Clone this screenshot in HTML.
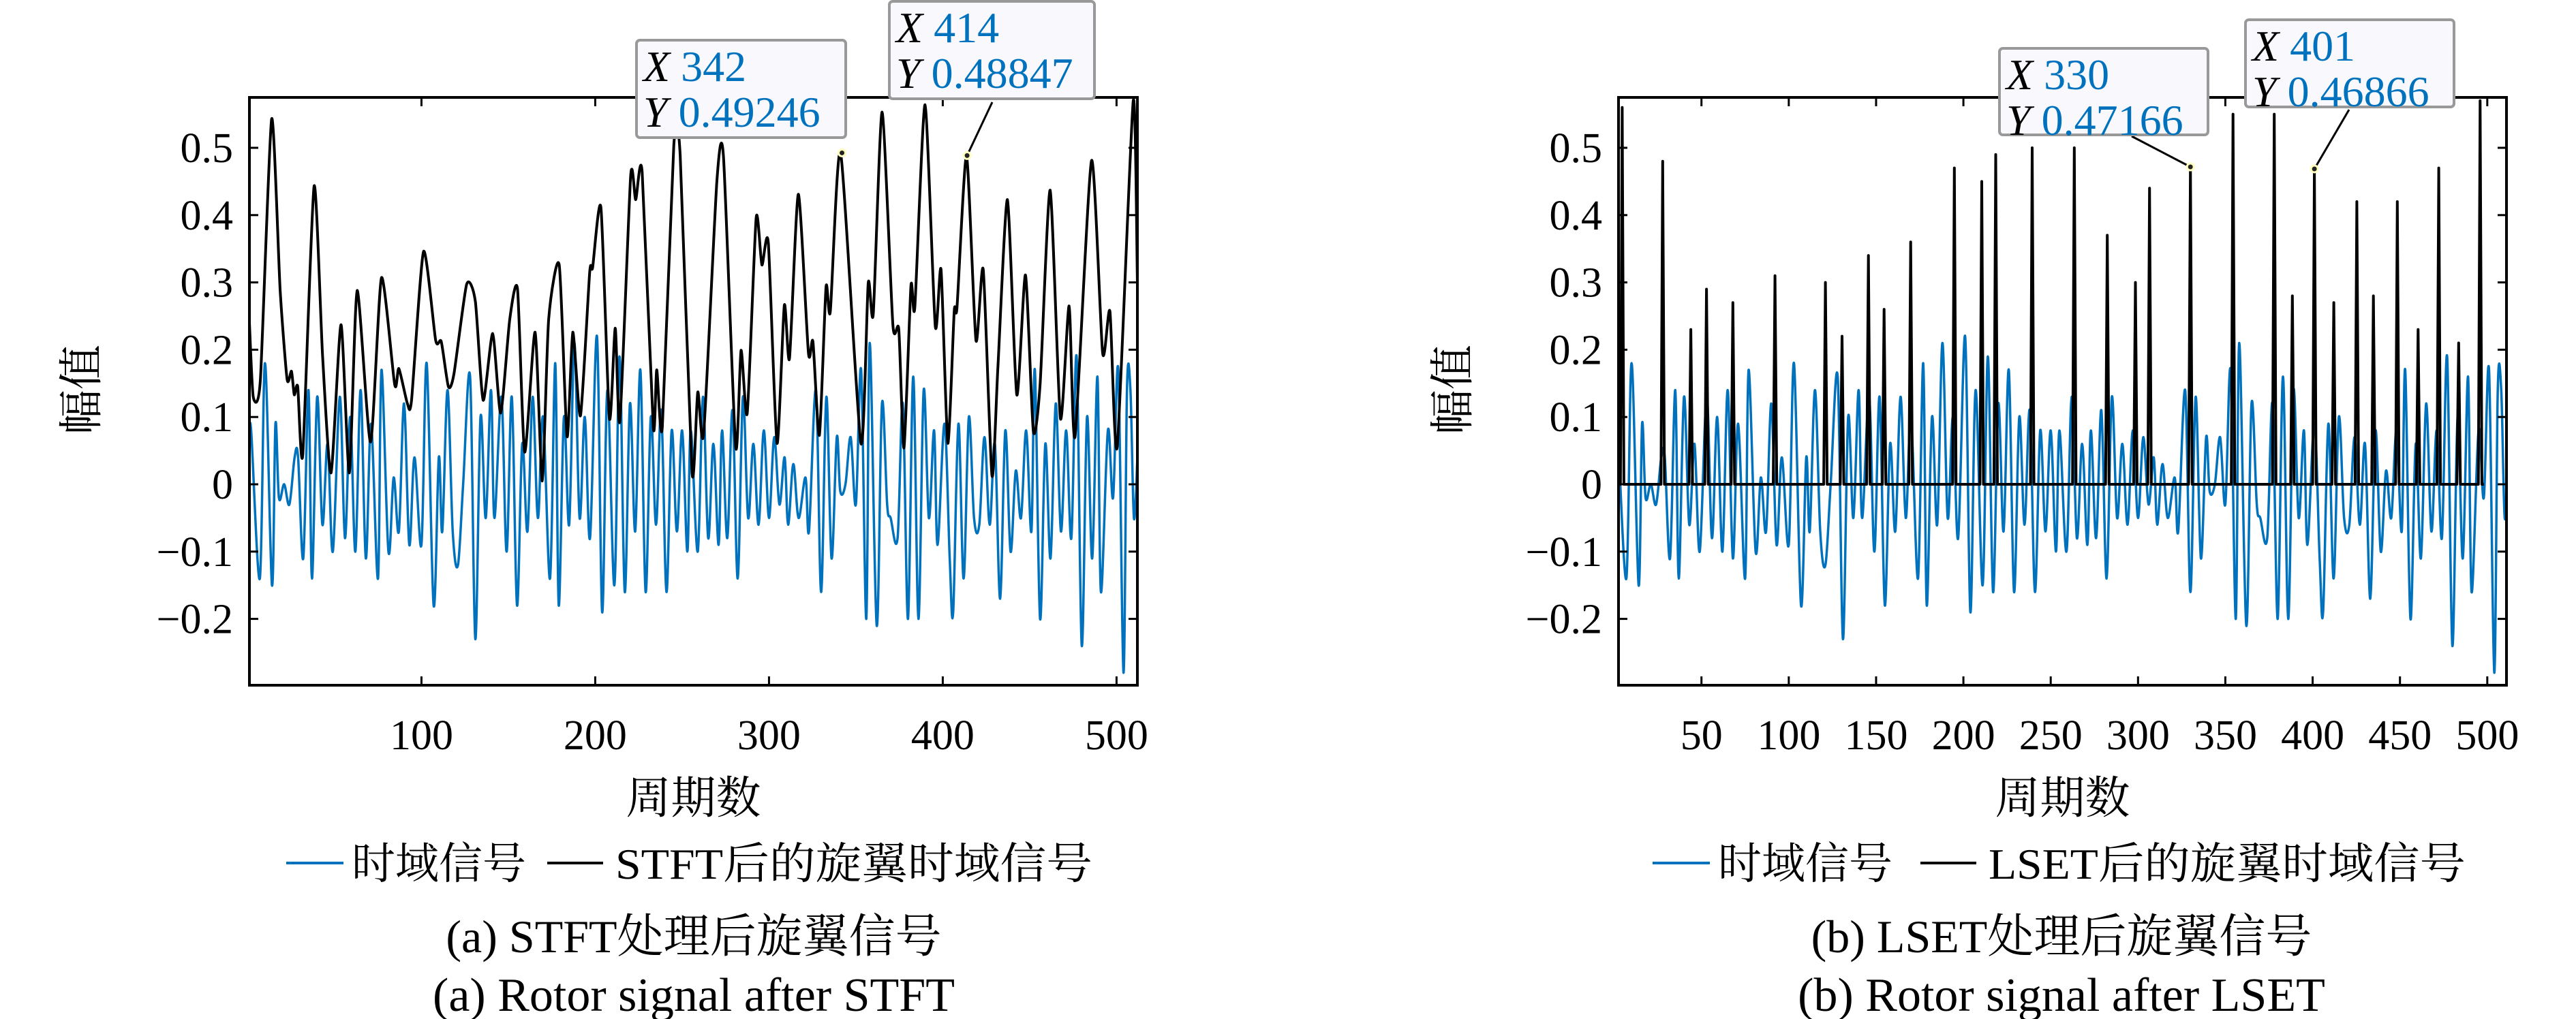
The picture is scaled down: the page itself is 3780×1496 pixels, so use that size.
<!DOCTYPE html>
<html><head><meta charset="utf-8">
<style>
html,body{margin:0;padding:0;background:#fff;}
svg{display:block;}
text{font-family:"Liberation Serif","Noto Serif CJK SC",serif;}
</style></head>
<body>
<svg id="fig" width="3780" height="1496" viewBox="0 0 3780 1496" xmlns="http://www.w3.org/2000/svg"></svg>
<script>
// ---------- data ----------
const blueX = [1,2,7,10,14,16,18,21,24,27,29,32,35,37,40,43,46,49,53,56,59,62,65,68,71,75,77,81,84,87,90,93,96,100,103,107,110,112,115,118,121,124,128,131,134,137,140,142,146,149,152,155,158,161,164,167,170,174,177,179,182,185,188,191,194,197,201,204,207,211,214,217,220,223,226,229,232,235,238,241,244,247,250,253,255,259,262,265,268,271,273,276,279,282,285,288,291,294,297,300,303,306,309,311,314,317,321,323,327,330,333,336,339,341,344,347,350,353,356,358,362,365,368,370,374,377,380,383,386,389,392,395,397,401,404,406,409,412,415,418,421,424,427,430,433,436,439,442,445,448,451,453,456,459,462,465,468,471,474,477,480,483,486,489,491,495,498,501,504,506,508,510,512];
const blueY = [0.06,0.08,-0.14,0.18,-0.15,0.09,-0.02,0,-0.03,0.04,0.04,-0.11,0.14,-0.14,0.13,-0.06,0.06,-0.1,0.13,-0.08,0.1,-0.1,0.14,-0.11,0.09,-0.14,0.17,-0.1,0.01,-0.07,0.12,-0.09,0.04,-0.09,0.18,-0.18,0.04,-0.07,0.14,-0.07,-0.12,0.0,0.16,-0.23,0.1,-0.05,0.14,-0.05,0.13,-0.1,0.13,-0.18,0.06,-0.07,0.13,-0.05,0.1,-0.14,0.18,-0.18,0.1,-0.06,0.21,-0.05,0.1,-0.08,0.22,-0.19,0.14,-0.15,0.19,-0.16,0.12,-0.07,0.17,-0.16,0.1,-0.06,0.11,-0.16,0.08,-0.07,0.08,-0.1,0.08,-0.1,0.13,-0.08,0.06,-0.09,0.08,-0.08,0.11,-0.14,0.13,-0.05,0.06,-0.06,0.08,-0.05,0.07,-0.03,0.04,-0.06,0.03,-0.05,0.01,-0.07,0.14,-0.16,0.13,-0.11,0.07,-0.01,0.0,0.07,-0.03,0.17,-0.2,0.21,-0.21,0.12,-0.03,-0.05,-0.08,0.12,-0.2,0.16,-0.2,0.14,-0.05,0.08,-0.09,0.09,-0.11,-0.19,0.09,-0.14,0.1,-0.05,-0.06,0.07,-0.06,0.06,-0.17,0.08,-0.1,0.02,-0.05,0.08,-0.07,0.17,-0.2,0.06,-0.11,0.12,-0.07,0.08,-0.08,0.19,-0.24,0.1,-0.11,0.16,-0.16,0.08,-0.02,0.17,-0.28,0.14,0.14,-0.05,0.04];
const stftX = [1,3.2,7.3,13.8,18.7,22.7,25.2,26.8,28.8,31.7,38.2,43.1,48,53.7,58.5,63,70.7,77,84.6,87,91.9,94.3,101.2,108.2,111.4,115.5,118.7,126,131,135.5,141,145.6,150.8,155.3,159.4,165.4,169.5,173.2,179.3,183.8,187.1,191.5,196.8,198.5,203.3,208.2,211.5,214.2,220.4,223.3,227,233.4,235.4,238.6,245.2,248.9,255.7,259,262.4,270,273.8,280.8,283.9,287.5,292.6,295.9,299.6,304.6,308.8,311.8,316.9,322.7,325.3,329,332.8,335.3,341.2,352.9,357.1,360,365.1,371.3,374.7,377.7,381.7,383.9,389.8,395.7,399,402.9,406.6,408.2,413.7,419.1,423.3,428.3,431.7,437.2,442.6,447.6,452.1,456,461.8,467.7,472.7,476.1,485.6,492,496.2,500.4,509.6,512];
const stftY = [0.24,0.13,0.156,0.543,0.288,0.156,0.168,0.133,0.145,0.044,0.443,0.19,0.017,0.237,0.017,0.288,0.063,0.307,0.148,0.172,0.12,0.125,0.346,0.214,0.212,0.145,0.164,0.297,0.272,0.125,0.224,0.106,0.245,0.29,0.048,0.226,0.005,0.245,0.326,0.071,0.226,0.102,0.315,0.322,0.411,0.098,0.232,0.094,0.458,0.423,0.464,0.085,0.17,0.085,0.503,0.489,0.017,0.137,0.075,0.45,0.487,0.056,0.199,0.106,0.396,0.326,0.359,0.061,0.266,0.187,0.431,0.195,0.212,0.073,0.293,0.257,0.49246,0.061,0.299,0.253,0.553,0.237,0.23,0.054,0.295,0.263,0.564,0.235,0.319,0.061,0.257,0.263,0.48847,0.214,0.319,0.013,0.172,0.423,0.133,0.311,0.079,0.148,0.437,0.098,0.265,0.071,0.481,0.195,0.257,0.056,0.57,0.3];
const lsetX = [4.6,27.8,43.9,52.9,68,92.1,121,130.5,145.6,154.6,169.8,194.8,210.5,218.5,239.4,263.5,282.4,298.5,306.6,330,354.4,378,388.4,401,412.1,425.3,434.8,448.5,460.4,472.2,483.6,495.9];
const lsetY = [0.56,0.48,0.23,0.29,0.27,0.31,0.30,0.22,0.34,0.26,0.36,0.47,0.45,0.49,0.50,0.50,0.37,0.30,0.44,0.47166,0.55,0.55,0.28,0.46866,0.27,0.42,0.28,0.42,0.23,0.47,0.21,0.57];
const yTicks = [0.5,0.4,0.3,0.2,0.1,0,-0.1,-0.2];
const yTickLabels = ["0.5","0.4","0.3","0.2","0.1","0","-0.1","-0.2"];
const xTicksA = [100,200,300,400,500];
const xTicksB = [50,100,150,200,250,300,350,400,450,500];
const tipsA = [[342,0.49246],[414,0.48847]];
const tipsB = [[330,0.47166],[401,0.46866]];

const NS="http://www.w3.org/2000/svg";
const svg=document.getElementById('fig');
function mk(tag,attrs,parent){const e=document.createElementNS(NS,tag);for(const k in attrs)e.setAttribute(k,attrs[k]);(parent||svg).appendChild(e);return e;}
const BLUE="#0072BD";

function smoothPath(pts,k){
  k=k||6;
  let d="M"+pts[0][0].toFixed(1)+","+pts[0][1].toFixed(1);
  for(let i=0;i<pts.length-1;i++){
    const p0=pts[Math.max(0,i-1)],p1=pts[i],p2=pts[i+1],p3=pts[Math.min(pts.length-1,i+2)];
    const c1x=p1[0]+(p2[0]-p0[0])/k,c1y=p1[1]+(p2[1]-p0[1])/k;
    const c2x=p2[0]-(p3[0]-p1[0])/k,c2y=p2[1]-(p3[1]-p1[1])/k;
    d+=" C"+c1x.toFixed(1)+","+c1y.toFixed(1)+" "+c2x.toFixed(1)+","+c2y.toFixed(1)+" "+p2[0].toFixed(1)+","+p2[1].toFixed(1);
  }
  return d;
}

function panel(o){
  const g=mk('g',{});
  
  
  const X0=o.left,X1=o.right,Y0=143,Y1=1006;
  const xs=v=>X0+(v-o.xmin)/(o.xmax-o.xmin)*(X1-X0);
  const ys=v=>711-v*988;
  const cp='clip-'+o.name;
  const defs=mk('defs',{},g);
  const c=mk('clipPath',{id:cp},defs);
  mk('rect',{x:X0,y:Y0,width:X1-X0,height:Y1-Y0},c);
  const bp=mk('path',{d:smoothPath(blueX.map((x,i)=>[xs(x),ys(blueY[i])])),fill:'none',stroke:BLUE,'stroke-width':3.5,'clip-path':'url(#'+cp+')'},g);
  
  
  let kd;
  if(o.type==='stft'){
    kd=smoothPath(stftX.map((x,i)=>[xs(x),ys(stftY[i])]),9);
  } else {
    kd="M"+xs(o.xmin)+","+ys(0);
    lsetX.forEach((x,i)=>{kd+=" L"+xs(x-1).toFixed(1)+","+ys(0)+" L"+xs(x).toFixed(1)+","+ys(lsetY[i]).toFixed(1)+" L"+xs(x+1).toFixed(1)+","+ys(0);});
    kd+=" L"+xs(498)+","+ys(0);
  }
  const kp=mk('path',{d:kd,fill:'none',stroke:'#000','stroke-width':4,'stroke-linejoin':'round','clip-path':'url(#'+cp+')'},g);
  
  
  const bx=mk('rect',{x:X0,y:Y0,width:X1-X0,height:Y1-Y0,fill:'none',stroke:'#000','stroke-width':4},g);
  
  
  yTicks.forEach((v,i)=>{
    const y=ys(v);
    mk('line',{x1:X0,y1:y,x2:X0+13,y2:y,stroke:'#000','stroke-width':3},g);
    mk('line',{x1:X1,y1:y,x2:X1-13,y2:y,stroke:'#000','stroke-width':3},g);
    const t=mk('text',{x:X0-24,y:y+21,'text-anchor':'end','font-size':62},g);
    t.textContent=yTickLabels[i].replace('-','\u2212');
    
    
  });
  o.xticks.forEach(v=>{
    const x=xs(v);
    mk('line',{x1:x,y1:Y1,x2:x,y2:Y1-13,stroke:'#000','stroke-width':3},g);
    mk('line',{x1:x,y1:Y0,x2:x,y2:Y0+13,stroke:'#000','stroke-width':3},g);
    const t=mk('text',{x:x,y:1100,'text-anchor':'middle','font-size':62},g);
    t.textContent=String(v);
    
    
  });
  const xl=mk('text',{x:(X0+X1)/2,y:1194,'text-anchor':'middle','font-size':66},g);
  xl.textContent='周期数';
  
  
  const yl=mk('text',{x:0,y:0,'text-anchor':'middle','font-size':66,transform:'translate('+o.ylx+',572) rotate(-90)'},g);
  yl.textContent='幅值';
  
  
  const lg=mk('g',{},g);
  
  
  mk('line',{x1:o.leg[0],y1:1267,x2:o.leg[0]+84,y2:1267,stroke:BLUE,'stroke-width':4},lg);
  const l1=mk('text',{x:o.leg[0]+96,y:1290,'font-size':64},lg);
  l1.textContent='时域信号';
  
  
  mk('line',{x1:o.leg[1],y1:1267,x2:o.leg[1]+82,y2:1267,stroke:'#000','stroke-width':4},lg);
  const l2=mk('text',{x:o.leg[1]+100,y:1290,'font-size':64,textLength:o.legLen,lengthAdjust:'spacingAndGlyphs'},lg);
  l2.textContent=o.legText;
  
  
  const c1=mk('text',{x:o.capx,y:1398,'text-anchor':'middle','font-size':68},g);
  c1.textContent=o.cap1;
  
  
  const c2=mk('text',{x:o.capx,y:1484,'text-anchor':'middle','font-size':70},g);
  c2.textContent=o.cap2;
  
  
  o.tips.forEach((tp,i)=>{
    const b=o.boxes[i];
    const px=xs(tp[0]),py=ys(tp[1]);
    const tg=mk('g',{},g);
    
    
    if(b.line) mk('line',{x1:b.lx,y1:b.ly,x2:px,y2:py,stroke:'#000','stroke-width':3},tg);
    mk('circle',{cx:px,cy:py,r:5,fill:'#222',stroke:'#ffffc0','stroke-width':3},tg);
    mk('rect',{x:b.x,y:b.y,width:b.w,height:b.h,rx:5,fill:'#f8f8fd',stroke:'#999','stroke-width':4},tg);
    const t1=mk('text',{x:b.x+10,y:b.y+60,'font-size':64},tg);
    t1.innerHTML='<tspan font-style="italic">X</tspan><tspan fill="'+BLUE+'"> '+tp[0]+'</tspan>';
    const t2=mk('text',{x:b.x+10,y:b.y+127,'font-size':64},tg);
    t2.innerHTML='<tspan font-style="italic">Y</tspan><tspan fill="'+BLUE+'"> '+String(tp[1]).padEnd(7,'0')+'</tspan>';
  });
}

panel({name:'panel-a-stft',type:'stft',left:366,right:1669,xmin:1,xmax:512,xticks:xTicksA,ylx:142,
  leg:[420,803],legText:'STFT后的旋翼时域信号',legLen:700,capx:1018,cap1:'(a) STFT处理后旋翼信号',cap2:'(a) Rotor signal after STFT',
  tips:tipsA,boxes:[{x:934,y:59,w:307,h:143,line:false},{x:1305,y:2,w:301,h:143,line:true,lx:1456,ly:150}]});
panel({name:'panel-b-lset',type:'lset',left:2375,right:3678,xmin:2.5,xmax:511,xticks:xTicksB,ylx:2154,
  leg:[2425,2818],legText:'LSET后的旋翼时域信号',legLen:700,capx:3025,cap1:'(b) LSET处理后旋翼信号',cap2:'(b) Rotor signal after LSET',
  tips:tipsB,boxes:[{x:2934,y:71,w:306,h:127,line:true,lx:3128,ly:200},{x:3295,y:29,w:306,h:128,line:true,lx:3447,ly:161}]});
</script>
</body></html>
